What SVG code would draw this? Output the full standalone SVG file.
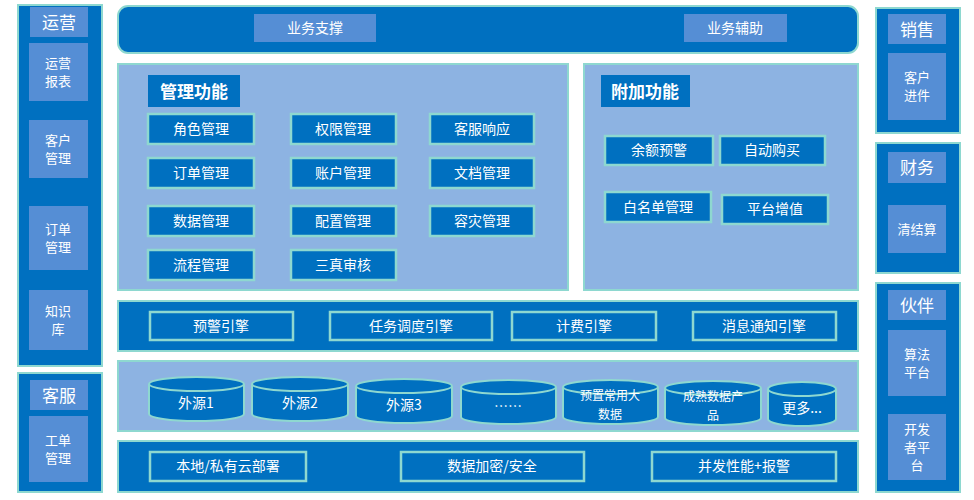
<svg xmlns="http://www.w3.org/2000/svg" width="974" height="500" viewBox="0 0 974 500">
<style>
text{font-family:"Noto Sans CJK SC","Liberation Sans",sans-serif;fill:#fff;text-anchor:middle;dominant-baseline:central}
.pan{fill:#0070C0;stroke:#8ED8D0;stroke-width:2}
.lpan{fill:#8DB3E2;stroke:#8ED8D0;stroke-width:2}
.mid{fill:#558ED5}
.it{fill:#0070C0;stroke:#8ED8D0;stroke-width:2.5}
.cyl{fill:#0070C0;stroke:#8ED8D0;stroke-width:2}
.s14{font-size:14px}.s13{font-size:13px}.s12{font-size:12px}.s17{font-size:17px;font-weight:bold}
</style>
<rect width="974" height="500" fill="#fff"/>
<g id="ops"><rect class="pan" x="18" y="5" width="84" height="361"/>
<rect class="mid" x="30" y="7" width="58" height="30"/><text x="59" y="21" style="font-size:17px">运营</text>
<rect class="mid" x="29" y="43" width="59" height="58"/><text x="58" y="62" class="s13">运营</text><text x="58" y="80" class="s13">报表</text>
<rect class="mid" x="29" y="120" width="59" height="58"/><text x="58" y="139" class="s13">客户</text><text x="58" y="157" class="s13">管理</text>
<rect class="mid" x="29" y="206" width="59" height="64"/><text x="58" y="228" class="s13">订单</text><text x="58" y="246" class="s13">管理</text>
<rect class="mid" x="29" y="290" width="59" height="60"/><text x="58" y="310" class="s13">知识</text><text x="58" y="328" class="s13">库</text></g>
<g id="cs"><rect class="pan" x="18" y="373" width="84" height="119"/>
<rect class="mid" x="30" y="380" width="58" height="30"/><text x="59" y="394" style="font-size:17px">客服</text>
<rect class="mid" x="29" y="416" width="59" height="66"/><text x="58" y="439" class="s13">工单</text><text x="58" y="457" class="s13">管理</text></g>
<g id="sales"><rect class="pan" x="876" y="8" width="84" height="125"/>
<rect class="mid" x="888" y="14" width="58" height="30"/><text x="917" y="28" style="font-size:17px">销售</text>
<rect class="mid" x="888" y="53" width="58" height="67"/><text x="917" y="76" class="s13">客户</text><text x="917" y="94" class="s13">进件</text></g>
<g id="fin"><rect class="pan" x="876" y="143" width="84" height="130"/>
<rect class="mid" x="888" y="152" width="58" height="31"/><text x="917" y="166" style="font-size:17px">财务</text>
<rect class="mid" x="888" y="205" width="58" height="48"/><text x="917" y="228" class="s13">清结算</text></g>
<g id="partner"><rect class="pan" x="876" y="283" width="84" height="209"/>
<rect class="mid" x="888" y="290" width="58" height="30"/><text x="917" y="304" style="font-size:17px">伙伴</text>
<rect class="mid" x="888" y="330" width="58" height="66"/><text x="917" y="353" class="s13">算法</text><text x="917" y="371" class="s13">平台</text>
<rect class="mid" x="888" y="414" width="58" height="66"/><text x="917" y="428" class="s13">开发</text><text x="917" y="446" class="s13">者平</text><text x="917" y="464" class="s13">台</text></g>
<g id="top"><rect class="pan" x="118" y="6" width="740" height="47" rx="10"/>
<rect class="mid" x="254" y="14" width="122" height="28"/><text x="315" y="27" class="s14">业务支撑</text>
<rect class="mid" x="684" y="14" width="103" height="28"/><text x="735" y="27" class="s14">业务辅助</text></g>
<g id="mgmt"><rect class="lpan" x="118" y="64" width="450" height="226"/>
<rect fill="#0070C0" x="148" y="75" width="92" height="32"/><text x="194" y="90" class="s17">管理功能</text>
<g class="s14">
<rect class="it" x="148" y="114" width="106" height="30"/><text x="201" y="128">角色管理</text>
<rect class="it" x="291" y="114" width="105" height="30"/><text x="343" y="128">权限管理</text>
<rect class="it" x="430" y="114" width="104" height="30"/><text x="482" y="128">客服响应</text>
<rect class="it" x="148" y="158" width="106" height="30"/><text x="201" y="172">订单管理</text>
<rect class="it" x="291" y="158" width="105" height="30"/><text x="343" y="172">账户管理</text>
<rect class="it" x="430" y="158" width="104" height="30"/><text x="482" y="172">文档管理</text>
<rect class="it" x="148" y="206" width="106" height="30"/><text x="201" y="220">数据管理</text>
<rect class="it" x="291" y="206" width="105" height="30"/><text x="343" y="220">配置管理</text>
<rect class="it" x="430" y="206" width="104" height="30"/><text x="482" y="220">容灾管理</text>
<rect class="it" x="148" y="250" width="106" height="30"/><text x="201" y="264">流程管理</text>
<rect class="it" x="291" y="250" width="105" height="30"/><text x="343" y="264">三真审核</text></g></g>
<g id="extra"><rect class="lpan" x="584" y="64" width="274" height="226"/>
<rect fill="#0070C0" x="601" y="75" width="89" height="32"/><text x="645" y="90" class="s17">附加功能</text>
<g class="s14">
<rect class="it" x="605" y="136" width="108" height="29"/><text x="659" y="149">余额预警</text>
<rect class="it" x="720" y="136" width="105" height="29"/><text x="772" y="149">自动购买</text>
<rect class="it" x="605" y="192" width="106" height="30"/><text x="658" y="206">白名单管理</text>
<rect class="it" x="722" y="195" width="106" height="29"/><text x="775" y="208">平台增值</text></g></g>
<g id="engine"><rect class="pan" x="118" y="301" width="740" height="50"/>
<g class="s14">
<rect class="it" x="150" y="312" width="143" height="28"/><text x="221" y="325">预警引擎</text>
<rect class="it" x="330" y="312" width="162" height="28"/><text x="411" y="325">任务调度引擎</text>
<rect class="it" x="512" y="312" width="144" height="28"/><text x="584" y="325">计费引擎</text>
<rect class="it" x="693" y="312" width="143" height="28"/><text x="764" y="325">消息通知引擎</text></g></g>
<g id="data"><rect class="lpan" x="118" y="361" width="740" height="70"/>
<g class="s14">
<path class="cyl" d="M149 384v30a47.5 7 0 0 0 95 0v-30"/><ellipse class="cyl" cx="196.5" cy="384" rx="47.5" ry="7"/><text x="196" y="402">外源1</text>
<path class="cyl" d="M252 384v30a48 7 0 0 0 96 0v-30"/><ellipse class="cyl" cx="300" cy="384" rx="48" ry="7"/><text x="300" y="402">外源2</text>
<path class="cyl" d="M356 386v30a48 7 0 0 0 96 0v-30"/><ellipse class="cyl" cx="404" cy="386" rx="48" ry="7"/><text x="404" y="404">外源3</text>
<path class="cyl" d="M461 387v30a47.5 7 0 0 0 95 0v-30"/><ellipse class="cyl" cx="508.5" cy="387" rx="47.5" ry="7"/><text x="508" y="405">……</text>
<path class="cyl" d="M563 387v30a47.5 7 0 0 0 95 0v-30"/><ellipse class="cyl" cx="610.5" cy="387" rx="47.5" ry="7"/><text x="610" y="394" class="s12">预置常用大</text><text x="610" y="413" class="s12">数据</text>
<path class="cyl" d="M665 388v30a48 7 0 0 0 96 0v-30"/><ellipse class="cyl" cx="713" cy="388" rx="48" ry="7"/><text x="713" y="395" class="s12">成熟数据产</text><text x="713" y="414" class="s12">品</text>
<path class="cyl" d="M768 389v30a34 7 0 0 0 68 0v-30"/><ellipse class="cyl" cx="802" cy="389" rx="34" ry="7"/><text x="802" y="407">更多...</text></g></g>
<g id="infra"><rect class="pan" x="118" y="441" width="740" height="51"/>
<g class="s14">
<rect class="it" x="150" y="452" width="156" height="29"/><text x="228" y="465">本地/私有云部署</text>
<rect class="it" x="401" y="452" width="183" height="29"/><text x="492" y="465">数据加密/安全</text>
<rect class="it" x="652" y="452" width="184" height="29"/><text x="744" y="465">并发性能+报警</text></g></g>
<g id="connectors"/>
</svg>
